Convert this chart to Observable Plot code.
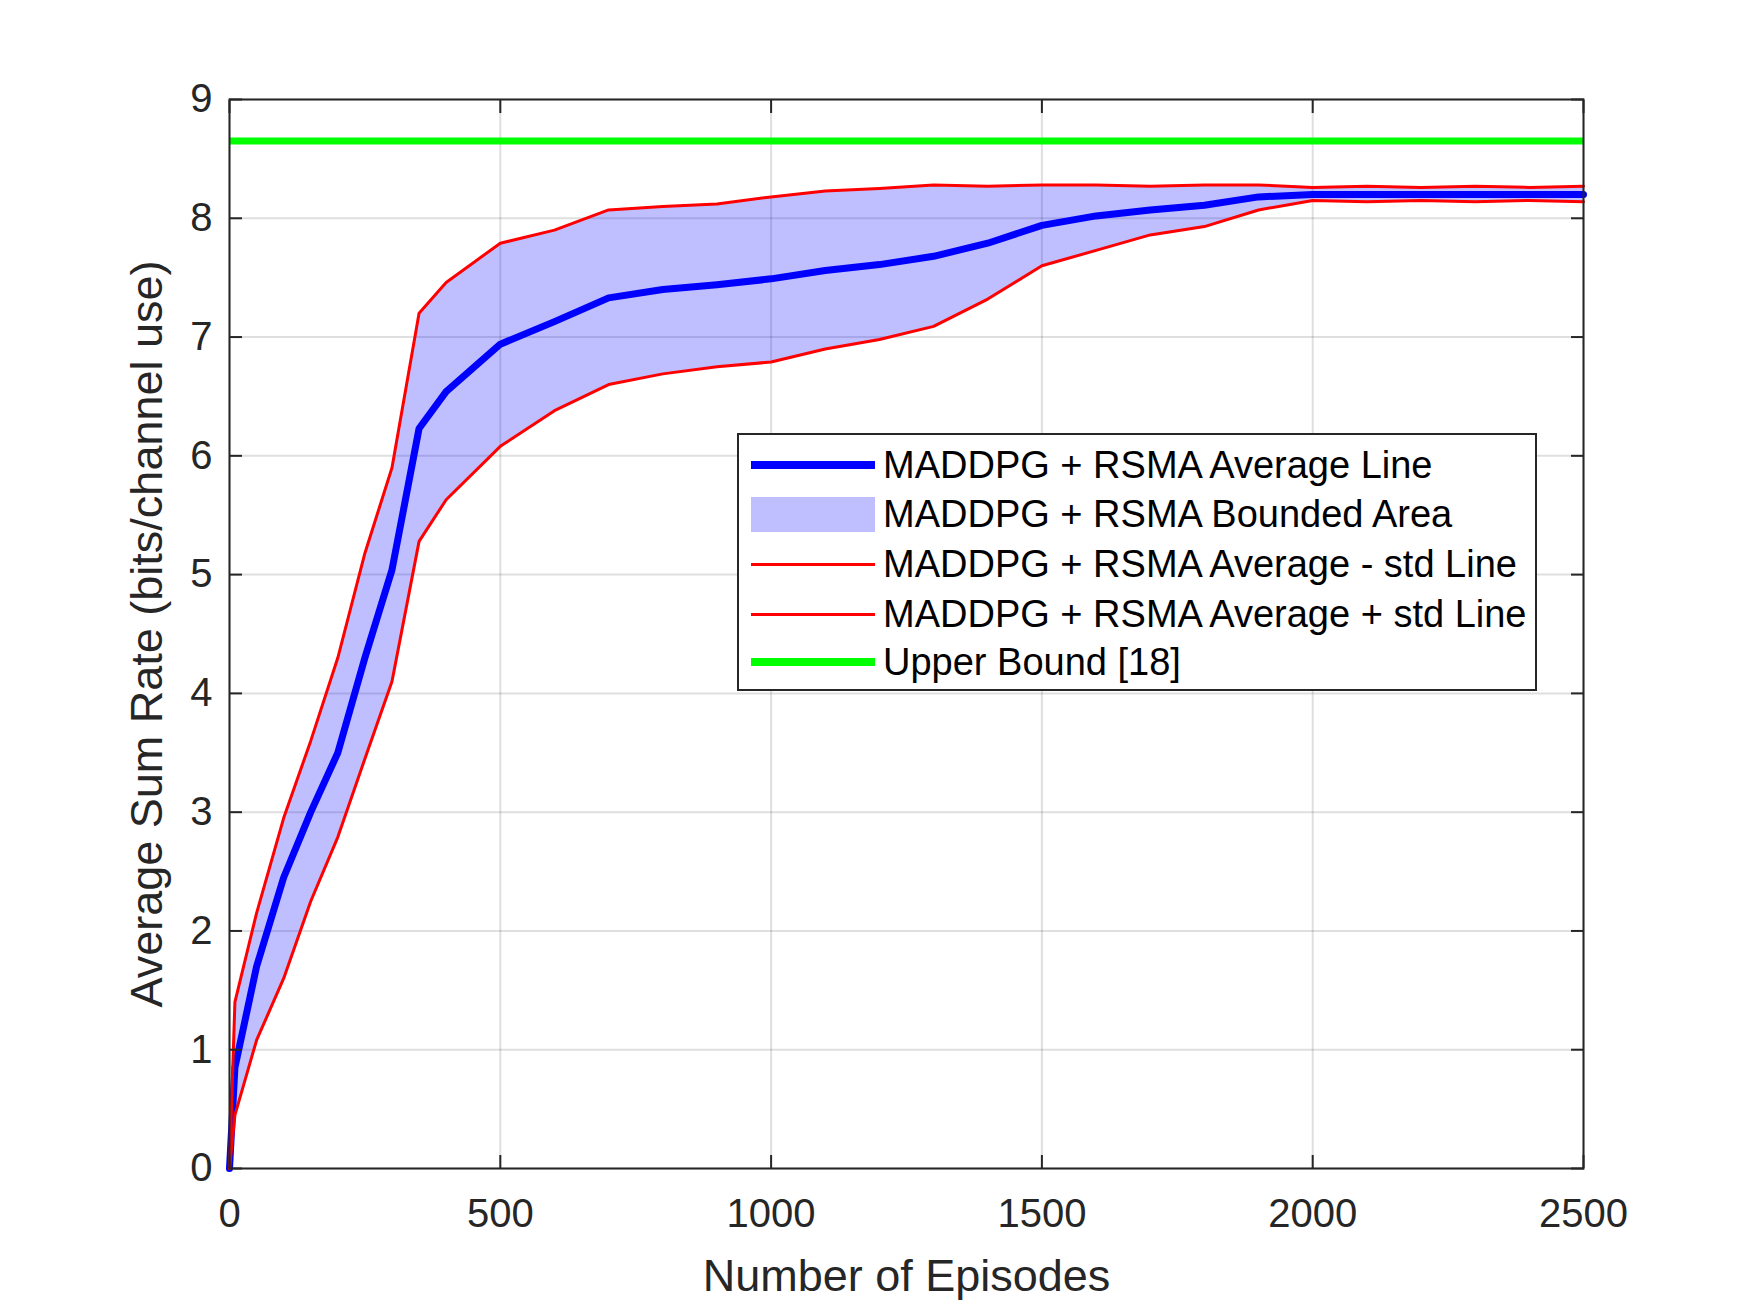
<!DOCTYPE html>
<html>
<head>
<meta charset="utf-8">
<script src="https://cdn.jsdelivr.net/npm/d3@7"></script>
<script src="https://cdn.jsdelivr.net/npm/@observablehq/plot@0.6"></script>
<style>
  html, body { margin: 0; padding: 0; background: #fff; }
  #wrap { position: relative; width: 1750px; height: 1313px; }
  #legend {
    position: absolute; left: 737px; top: 433px; width: 796px; height: 254px;
    border: 2px solid #262626; background: #fff;
    font-family: "Liberation Sans", Arial, Helvetica, sans-serif; font-size: 38px; color: #000;
  }
  .row { position: absolute; left: 0; height: 0; }
  .sw { position: absolute; left: 12px; width: 124px; }
  .lab { position: absolute; left: 144px; top: 0; transform: translateY(-50%); white-space: nowrap; line-height: 1; }
</style>
</head>
<body>
<div id="wrap">
  <div id="chart"></div>
  <div id="legend"></div>
</div>
<script>
// ---- data ----
const episodes  = [0, 10, 50, 100, 150, 200, 250, 300, 350, 400, 500, 600, 700, 800, 900, 1000, 1100, 1200, 1300, 1400, 1500, 1600, 1700, 1800, 1900, 2000, 2100, 2200, 2300, 2400, 2500];
const meanRate  = [0, 0.85, 1.7, 2.45, 3.0, 3.5, 4.3, 5.04, 6.23, 6.54, 6.94, 7.13, 7.33, 7.40, 7.44, 7.49, 7.56, 7.61, 7.68, 7.79, 7.94, 8.02, 8.07, 8.11, 8.18, 8.20, 8.20, 8.20, 8.20, 8.20, 8.20];
const upperRate = [0, 1.4, 2.15, 2.95, 3.6, 4.3, 5.18, 5.9, 7.2, 7.46, 7.79, 7.90, 8.07, 8.10, 8.12, 8.18, 8.23, 8.25, 8.28, 8.27, 8.28, 8.28, 8.27, 8.28, 8.28, 8.26, 8.27, 8.26, 8.27, 8.26, 8.27];
const lowerRate = [0, 0.45, 1.08, 1.6, 2.25, 2.79, 3.45, 4.1, 5.28, 5.63, 6.08, 6.38, 6.60, 6.69, 6.75, 6.79, 6.90, 6.98, 7.09, 7.32, 7.60, 7.73, 7.86, 7.93, 8.07, 8.15, 8.14, 8.15, 8.14, 8.15, 8.14];
const upperBound = 8.65;
const xTicks = [0, 500, 1000, 1500, 2000, 2500];
const yTicks = [0, 1, 2, 3, 4, 5, 6, 7, 8, 9];
const xLabel = "Number of Episodes";
const yLabel = "Average Sum Rate (bits/channel use)";
const legendItems = [
  {label: "MADDPG + RSMA Average Line", kind: "line", color: "#0000ff", width: 8},
  {label: "MADDPG + RSMA Bounded Area", kind: "area", color: "#bfbfff"},
  {label: "MADDPG + RSMA Average - std Line", kind: "line", color: "#ff0000", width: 3},
  {label: "MADDPG + RSMA Average + std Line", kind: "line", color: "#ff0000", width: 3},
  {label: "Upper Bound [18]", kind: "line", color: "#00ff00", width: 8}
];

const data = episodes.map((e, i) => ({episode: e, mean: meanRate[i], upper: upperRate[i], lower: lowerRate[i]}));

const axisColor = "#262626";
const fmt = d => String(d);
const chart = Plot.plot({
  width: 1750,
  height: 1313,
  marginLeft: 229,
  marginRight: 167,
  marginTop: 99,
  marginBottom: 145,
  style: {fontFamily: "'Liberation Sans', Arial, Helvetica, sans-serif", fontSize: "40px", background: "#fff", color: axisColor},
  x: {domain: [0, 2500]},
  y: {domain: [0, 9]},
  marks: [
    Plot.gridX(xTicks, {stroke: axisColor, strokeOpacity: 0.15, strokeWidth: 2}),
    Plot.gridY(yTicks, {stroke: axisColor, strokeOpacity: 0.15, strokeWidth: 2}),
    Plot.areaY(data, {x: "episode", y1: "lower", y2: "upper", fill: "#0000ff", fillOpacity: 0.25}),
    Plot.line(data, {x: "episode", y: "mean", stroke: "#0000ff", strokeWidth: 7}),
    Plot.line(data, {x: "episode", y: "lower", stroke: "#ff0000", strokeWidth: 3}),
    Plot.line(data, {x: "episode", y: "upper", stroke: "#ff0000", strokeWidth: 3}),
    Plot.ruleY([upperBound], {stroke: "#00ff00", strokeWidth: 7}),
    Plot.axisX(xTicks, {anchor: "bottom", tickSize: -13, tickPadding: 43, strokeWidth: 2, color: axisColor, fontSize: 40, tickFormat: fmt, label: null}),
    Plot.axisX(xTicks, {anchor: "top", tickSize: -13, strokeWidth: 2, color: axisColor, tickFormat: () => "", label: null}),
    Plot.axisY(yTicks, {anchor: "left", tickSize: -13, tickPadding: 30, strokeWidth: 2, color: axisColor, fontSize: 40, tickFormat: fmt, label: null}),
    Plot.axisY(yTicks, {anchor: "right", tickSize: -13, strokeWidth: 2, color: axisColor, tickFormat: () => "", label: null}),
    Plot.frame({stroke: axisColor, strokeWidth: 2}),
    Plot.text([xLabel], {frameAnchor: "bottom", textAnchor: "middle", dy: 91, lineAnchor: "top", fontSize: 45, fill: axisColor}),
    Plot.text([yLabel], {frameAnchor: "left", textAnchor: "middle", dx: -99, rotate: -90, lineAnchor: "top", fontSize: 45, fill: axisColor})
  ]
});
document.getElementById("chart").appendChild(chart);

// ---- legend overlay ----
const legend = document.getElementById("legend");
const rowCenters = [30, 79, 129, 179, 227];
legendItems.forEach((item, i) => {
  const row = document.createElement("div");
  row.className = "row";
  row.style.top = rowCenters[i] + "px";
  const sw = document.createElement("div");
  sw.className = "sw";
  const h = item.kind === "area" ? 35 : item.width;
  sw.style.height = h + "px";
  sw.style.top = (-h / 2) + "px";
  sw.style.background = item.color;
  const lab = document.createElement("div");
  lab.className = "lab";
  lab.textContent = item.label;
  row.appendChild(sw);
  row.appendChild(lab);
  legend.appendChild(row);
});
</script>
</body>
</html>
